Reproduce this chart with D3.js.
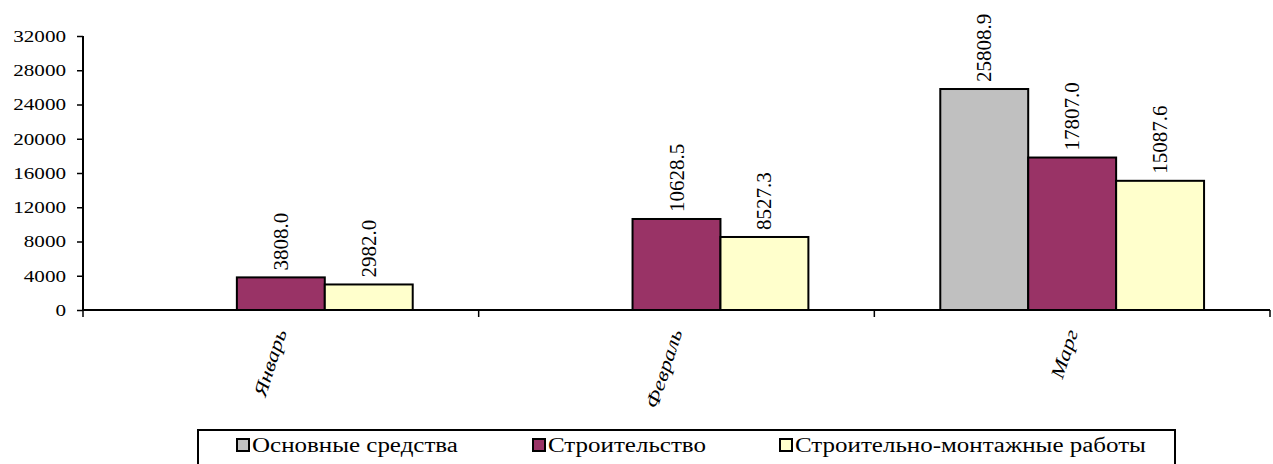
<!DOCTYPE html>
<html>
<head>
<meta charset="utf-8">
<script src="https://cdn.jsdelivr.net/npm/d3@7"></script>
<style>
  body { margin: 0; background: #fff; }
  svg { display: block; }
  .num, .lbl { font-family: "Liberation Serif", "Times New Roman", serif; }
</style>
</head>
<body>
<svg id="chart" width="1273" height="464"></svg>
<script>
// months and series
var months = ['Январь', 'Февраль', 'Марг'];
var seriesNames = ['Основные средства', 'Строительство', 'Строительно-монтажные работы'];
var fixedAssets = [null, null, 25808.9];
var construction = [3808.0, 10628.5, 17807.0];
var installWorks = [2982.0, 8527.3, 15087.6];
var yTicks = [0, 4000, 8000, 12000, 16000, 20000, 24000, 28000, 32000];
var colors = ['#c0c0c0', '#993366', '#ffffcc'];

var svg = d3.select('#chart');
var margin = {left: 83, right: 3, top: 36, bottom: 154};
var width = +svg.attr('width');
var height = +svg.attr('height');

var x0 = d3.scaleBand()
  .domain(months)
  .range([margin.left, width - margin.right])
  .paddingInner(1 / 3)
  .paddingOuter(1 / 6);

var x1 = d3.scaleBand()
  .domain(d3.range(3))
  .range([0, x0.bandwidth()]);

var y = d3.scaleLinear()
  .domain([0, 32000])
  .range([height - margin.bottom, margin.top]);

var all = [fixedAssets, construction, installWorks];
var rows = [];
months.forEach(function(m, i) {
  all.forEach(function(s, j) {
    if (s[i] != null) rows.push({month: m, s: j, v: s[i]});
  });
});

// y axis
var yAxis = svg.append('g')
  .attr('transform', 'translate(' + margin.left + ',0)')
  .call(d3.axisLeft(y).tickValues(yTicks).tickSize(6).tickPadding(11).tickFormat(d3.format('d')));
yAxis.attr('font-family', null).attr('font-size', null);
yAxis.select('.domain').attr('stroke', '#000').attr('stroke-width', 2).attr('d', 'M0,' + y(0) + 'V' + y(32000));
yAxis.selectAll('.tick line').attr('stroke', '#000').attr('stroke-width', 1.5);
// the source font is wider than Times, so stretch horizontally
yAxis.selectAll('text')
  .attr('class', 'num')
  .style('font-size', '16.5px')
  .attr('fill', '#000')
  .attr('x', -17 / 1.28)
  .attr('transform', 'scale(1.28,1)');

// bars
svg.append('g').selectAll('rect')
  .data(rows)
  .join('rect')
  .attr('x', function(d) { return x0(d.month) + x1(d.s); })
  .attr('y', function(d) { return y(d.v); })
  .attr('width', x1.bandwidth())
  .attr('height', function(d) { return y(0) - y(d.v); })
  .attr('fill', function(d) { return colors[d.s]; })
  .attr('stroke', '#000')
  .attr('stroke-width', 2);

// value labels
svg.append('g').selectAll('text')
  .data(rows)
  .join('text')
  .attr('class', 'num')
  .style('font-size', '21px')
  .attr('transform', function(d) {
    var cx = x0(d.month) + x1(d.s) + x1.bandwidth() / 2;
    return 'translate(' + (cx + 7) + ',' + (y(d.v) - 7) + ') rotate(-90)';
  })
  .text(function(d) { return d3.format('.1f')(d.v); });

// x axis
var xEdges = [margin.left].concat(months.map(function(m) { return x0(m) + x0.bandwidth() + x0.step() * x0.paddingInner() / 2; }));
svg.append('line')
  .attr('x1', margin.left).attr('x2', width - margin.right)
  .attr('y1', y(0)).attr('y2', y(0))
  .attr('stroke', '#000').attr('stroke-width', 2);
svg.append('g').selectAll('line')
  .data(xEdges)
  .join('line')
  .attr('x1', function(d) { return d; }).attr('x2', function(d) { return d; })
  .attr('y1', y(0)).attr('y2', y(0) + 7)
  .attr('stroke', '#000').attr('stroke-width', 1.5);

svg.append('g').selectAll('text')
  .data(months)
  .join('text')
  .attr('class', 'lbl')
  .attr('transform', function(d) {
    return 'translate(' + (x0(d) + x0.bandwidth() / 2 + 6) + ',' + (y(0) + 22) + ') rotate(-72) scale(1.2,1)';
  })
  .attr('text-anchor', 'end')
  .style('font-style', 'italic')
  .style('font-size', '19px')
  .text(function(d) { return d; });

// legend
var legend = svg.append('g');
legend.append('rect')
  .attr('x', 198).attr('y', 430).attr('width', 977).attr('height', 40)
  .attr('fill', '#fff').attr('stroke', '#000').attr('stroke-width', 2);
var legendX = [237, 533, 780];
seriesNames.forEach(function(name, i) {
  legend.append('rect')
    .attr('x', legendX[i]).attr('y', 439).attr('width', 12).attr('height', 12)
    .attr('fill', colors[i]).attr('stroke', '#000').attr('stroke-width', 2);
  legend.append('text')
    .attr('class', 'lbl')
    .attr('transform', 'translate(' + (legendX[i] + 15) + ',452) scale(1.25,1)')
    .style('font-size', '20px')
    .text(name);
});
</script>
</body>
</html>
